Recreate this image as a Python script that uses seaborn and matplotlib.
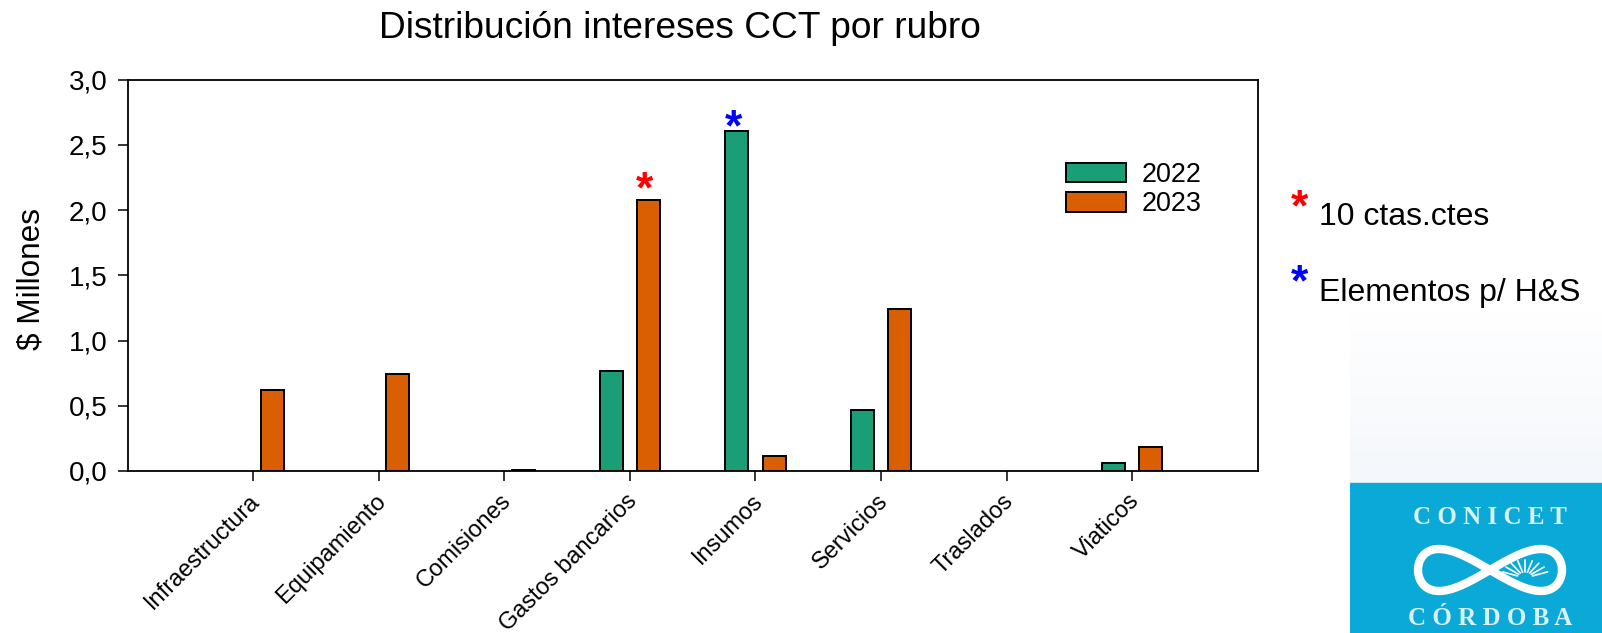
import numpy as np
import pandas as pd
import seaborn as sns
import matplotlib.pyplot as plt
from matplotlib.patches import Rectangle
from matplotlib.transforms import ScaledTranslation

rubros = ['Infraestructura', 'Equipamiento', 'Comisiones', 'Gastos bancarios',
          'Insumos', 'Servicios', 'Traslados', 'Viaticos']
v2022 = [0, 0, 0, 0.77, 2.61, 0.465, 0, 0.065]
v2023 = [0.62, 0.745, 0.005, 2.075, 0.115, 1.245, 0, 0.185]
yticks = [0, 0.5, 1, 1.5, 2, 2.5, 3]
colores = ['#1b9e77', '#d95f02']

W, H = 1602, 633

sns.set_theme(style='ticks')
plt.rcParams['font.family'] = ['Liberation Sans', 'DejaVu Sans']

df = pd.DataFrame({'rubro': rubros, '2022': v2022, '2023': v2023})
df = df.melt(id_vars='rubro', var_name='anio', value_name='millones')

fig = plt.figure(figsize=(W / 100, H / 100), dpi=100)
ax = fig.add_axes([127.7 / W, 1 - 471 / H, 1130 / W, 391.3 / H])

sns.barplot(data=df, x='rubro', y='millones', hue='anio', order=rubros,
            palette=colores, width=0.6, gap=0.39, edgecolor='black',
            linewidth=1.4, saturation=1, ax=ax, zorder=3)

# las barras en cero no deben engrosar el eje
for cont in ax.containers:
    for p in cont:
        if p.get_height() == 0:
            p.set_linewidth(0)

ax.set_xlim(-1, 8)
ax.set_ylim(0, 3)
ax.set_yticks(yticks)
ax.set_yticklabels([f'{t:.1f}'.replace('.', ',') for t in yticks], fontsize=20, color='black')
ax.set_xlabel('')
ax.set_ylabel('$ Millones', fontsize=22.7, color='black')
ax.yaxis.set_label_coords(-0.0722, 0.49)
ax.set_xticks(range(len(rubros)))
ax.set_xticklabels(rubros, rotation=45, ha='right', rotation_mode='anchor', fontsize=17, color='black')
ax.tick_params(axis='both', length=7.5, width=1.1, color='black')
ax.tick_params(axis='y', pad=7)
ax.tick_params(axis='x', pad=6)
corrimiento = ScaledTranslation(-3 / 72, 0, fig.dpi_scale_trans)
for lab in ax.get_xticklabels():
    lab.set_transform(lab.get_transform() + corrimiento)
for s in ax.spines.values():
    s.set_linewidth(1.3)
    s.set_color('black')

ax.legend(frameon=False, loc='upper left', bbox_to_anchor=(0.83, 0.79), fontsize=19.4,
          handlelength=2.24, handleheight=0.76, handletextpad=0.6, labelspacing=0.125,
          borderpad=0, borderaxespad=0, labelcolor='black')

# asteriscos sobre las barras
ax.text(3 + 0.115, 2.15, '*', color='red', fontsize=32, weight='bold', ha='center', va='center')
ax.text(4 - 0.175, 2.625, '*', color='blue', fontsize=32, weight='bold', ha='center', va='center')

fig.text(680 / W, 1 - 29 / H, 'Distribución intereses CCT por rubro', fontsize=26.7,
         ha='center', va='center', color='black')

# notas laterales
fig.text(1299 / W, 1 - 209 / H, '*', color='red', fontsize=32, weight='bold', ha='center', va='center')
fig.text(1319 / W, 1 - 217 / H, '10 ctas.ctes', fontsize=23, va='center', color='black')
fig.text(1299 / W, 1 - 284 / H, '*', color='blue', fontsize=32, weight='bold', ha='center', va='center')
fig.text(1319 / W, 1 - 293 / H, 'Elementos p/ H&S', fontsize=23, va='center', color='black')

# logo
logo = fig.add_axes([1350 / W, 0, 252 / W, 323 / H])
grad = np.linspace(0, 1, 100).reshape(-1, 1)
logo.imshow(grad, extent=(1350, 1602, 483, 310), cmap=sns.blend_palette(['#ffffff', '#f4f7fb'], as_cmap=True),
            aspect='auto', zorder=1)
logo.set_xlim(1350, 1602)
logo.set_ylim(633, 310)
logo.axis('off')
logo.add_patch(Rectangle((1350, 483), 252, 150, color='#0aa9d8', zorder=2))
logo.text(1490, 518, 'C O N I C E T', family='Liberation Serif', weight='bold', fontsize=18,
          color='#d9f1f3', ha='center', va='center', zorder=3)
logo.text(1490, 619, 'C Ó R D O B A', family='Liberation Serif', weight='bold', fontsize=18,
          color='#d9f1f3', ha='center', va='center', zorder=3)
t = np.linspace(0, 2 * np.pi, 300)
logo.plot(1490 + 72 * np.cos(t), 570 + 21 * np.sin(2 * t), color='white', lw=6, zorder=3)
# rayos del sol en el lazo derecho
for a in np.linspace(200, 340, 9):
    r = np.radians(a)
    logo.plot([1525 + 8 * np.cos(r), 1525 + 24 * np.cos(r)], [578 + 6 * np.sin(r), 578 + 18 * np.sin(r)],
              color='white', lw=1.2, zorder=3)

fig.savefig('out.png', dpi=100)
